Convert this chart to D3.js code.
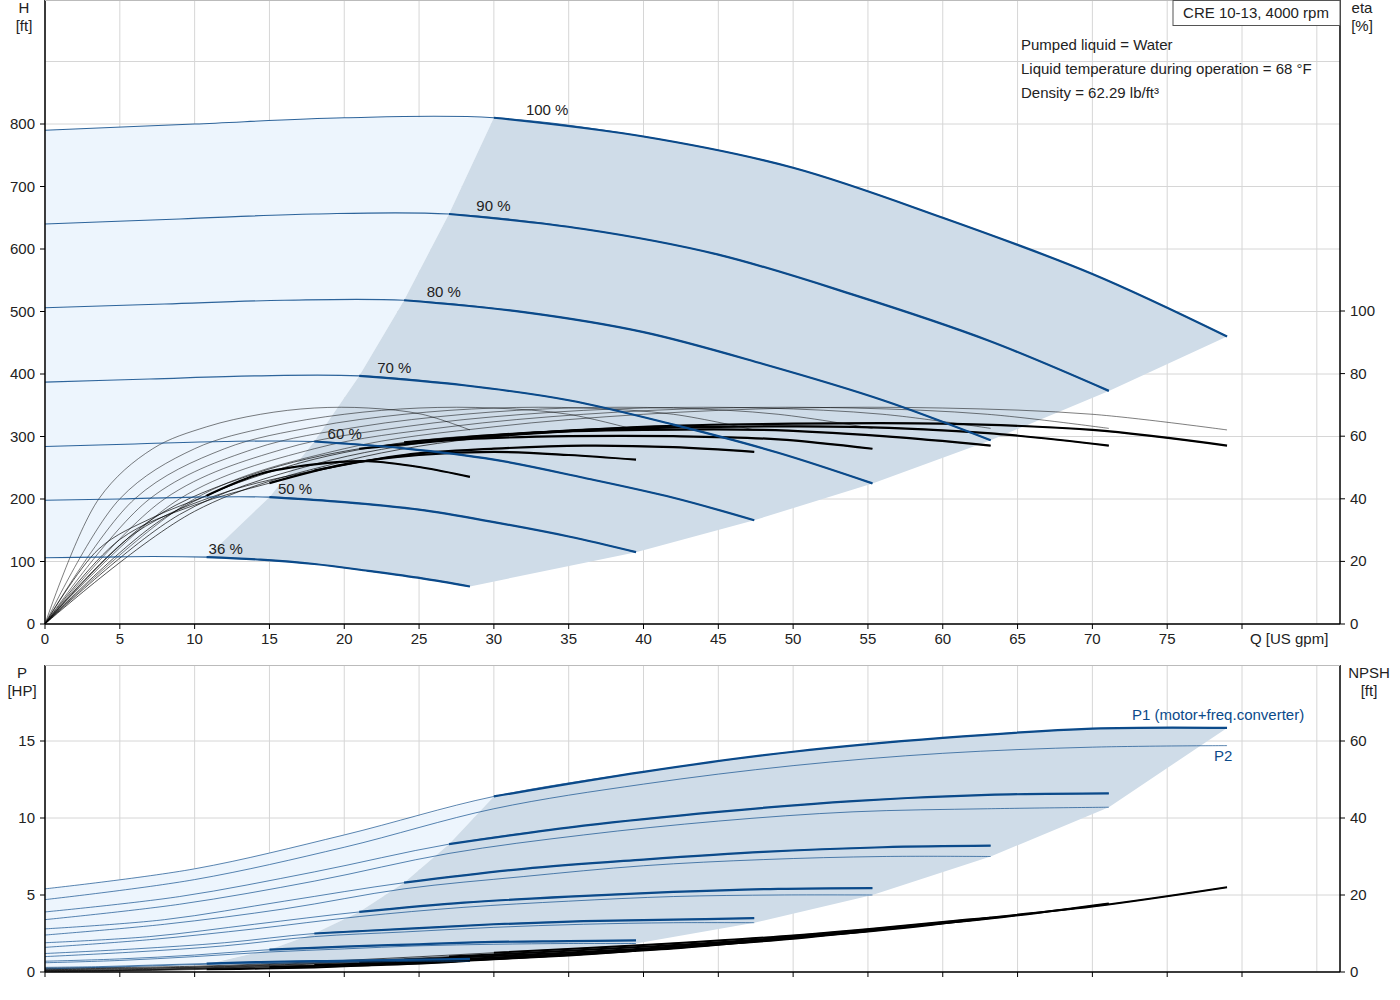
<!DOCTYPE html>
<html><head><meta charset="utf-8">
<script src="https://cdn.jsdelivr.net/npm/d3@7"></script>
<style>body{margin:0;background:#fff}text{font-family:"Liberation Sans",Arial,sans-serif;font-size:15px;fill:#222}</style>
</head><body><svg id="c" width="1400" height="1000"></svg>
<script>
const speeds = ["100 %","90 %","80 %","70 %","60 %","50 %","36 %"];
const qValues = [
 [0,10,20,30,40,50,60,70,79],
 [0,9,18,27,36,45,54,63,71.1],
 [0,8,16,24,32,40,48,56,63.2],
 [0,7,14,21,28,35,42,49,55.3],
 [0,6,12,18,24,30,36,42,47.4],
 [0,5,10,15,20,25,30,35,39.5],
 [0,3.6,7.2,10.8,14.4,18,21.6,25.2,28.4]];
const headValues = [
 [790,800,810,810,780,730,650,560,460],
 [640,648,656,656,632,591,527,454,373],
 [506,512,518,518,499,467,416,358,294],
 [387,392,397,397,382,358,319,274,225],
 [284,288,292,292,281,263,234,202,166],
 [198,200,203,203,195,183,163,140,115],
 [106,107,108,107,103,96,85,73,60]];
const etaTotal = [
 [0,36,52,60,63,64,64,62,57],
 [0,35,51,59,62,63,63,61,57],
 [0,34,50,58,61,62,62,60,57],
 [0,33,48,56,59,60,60,59,56],
 [0,29,42,49,54,56,57,56.5,55],
 [0,27,38,45,51,54,55,54,52.5],
 [0,24,34,41,48,51,52,50,47]];
const etaPump = [
 [0,40,56,63,67,69,69,67,62],
 [0,40,56,63,67,69,69,67,62.5],
 [0,40,56,63,67,69,69,67,62.5],
 [0,40,56,63,67,69,69,67,62.5],
 [0,40,56,63,67,69,69,67,62],
 [0,40,56,63,67,69,69,67,62],
 [0,40,56,63,67,69,69,67,62]];
const p1Values = [
 [5.4,6.7,8.9,11.4,13.0,14.3,15.2,15.8,15.85],
 [3.9,4.9,6.5,8.3,9.5,10.4,11.1,11.5,11.6],
 [2.8,3.4,4.6,5.8,6.7,7.3,7.8,8.1,8.2],
 [1.9,2.3,3.1,3.9,4.5,4.9,5.2,5.4,5.45],
 [1.2,1.5,1.9,2.5,2.8,3.1,3.3,3.4,3.5],
 [0.7,0.85,1.1,1.45,1.65,1.8,1.95,2.0,2.05],
 [0.3,0.35,0.45,0.55,0.65,0.7,0.75,0.8,0.85]];
const p2Values = [
 [4.7,6.0,8.1,10.6,12.2,13.4,14.2,14.6,14.7],
 [3.4,4.4,5.9,7.7,8.9,9.8,10.4,10.6,10.7],
 [2.4,3.1,4.1,5.4,6.2,6.9,7.3,7.5,7.5],
 [1.6,2.1,2.8,3.6,4.2,4.6,4.9,5.0,5.0],
 [1.0,1.3,1.7,2.3,2.6,2.9,3.1,3.2,3.2],
 [0.6,0.75,1.0,1.3,1.5,1.7,1.8,1.85,1.85],
 [0.2,0.3,0.4,0.5,0.55,0.6,0.65,0.7,0.7]];
const npshValues = [
 [1,1.5,3,5,7,9.5,13,17,22],
 [0.8,1.2,2.4,4,5.7,7.7,10.5,13.8,17.8],
 [0.6,1,1.9,3.2,4.5,6.1,8.3,10.9,14.1],
 [0.5,0.7,1.5,2.5,3.4,4.7,6.4,8.3,10.8],
 [0.4,0.5,1.1,1.8,2.5,3.4,4.7,6.1,7.9],
 [0.3,0.4,0.8,1.3,1.8,2.4,3.3,4.3,5.5],
 [0.1,0.2,0.4,0.7,0.9,1.2,1.7,2.2,2.9]];
const xTicks = [0,5,10,15,20,25,30,35,40,45,50,55,60,65,70,75];
const hTicks = [0,100,200,300,400,500,600,700,800];
const etaTicks = [0,20,40,60,80,100];
const pTicks = [0,5,10,15];
const npshTicks = [0,20,40,60];
const infoLines = ["Pumped liquid = Water","Liquid temperature during operation = 68 °F","Density = 62.29 lb/ft³"];

const svg = d3.select("#c");
const L=45,R=1340,T1=0,B1=624,T2=665,B2=972;
const x = d3.scaleLinear([0,80],[L,1242]);
const yH = d3.scaleLinear([0,800],[B1,124]);
const yE = d3.scaleLinear([0,100],[B1,311]);
const yP = d3.scaleLinear([0,15],[B2,741]);
const yN = d3.scaleLinear([0,60],[B2,741]);
const BLUE="#0b4a8a", DARK="#cfdce8", LIGHT="#edf5fd", GRID="#d6d6d6";
const pts=(i,vals)=>qValues[i].map((q,j)=>[q,vals[i][j]]);
const mk=(ys)=>d3.line().x(d=>x(d[0])).y(d=>ys(d[1])).curve(d3.curveCatmullRom);
const seg=(s)=>s.replace(/^M/,"L");

function regions(ys, topV, botV, rightV){
  const line=mk(ys), n=7;
  const top=pts(0,topV), bot=pts(n-1,botV);
  // dark
  let d = line(top.slice(3));
  for(let i=1;i<n;i++){const p=pts(i,rightV)[8]; d+=`L${x(p[0])},${ys(p[1])}`;}
  d += seg(line(bot.slice(3).reverse()));
  for(let i=n-2;i>=1;i--){const p=pts(i,topV===botV?topV:topV)[3]; d+=`L${x(p[0])},${ys(p[1])}`;}
  d+="Z";
  // light
  let l = line(top.slice(0,4));
  for(let i=1;i<n;i++){const p=pts(i,topV)[3]; l+=`L${x(p[0])},${ys(p[1])}`;}
  l += seg(line(bot.slice(0,4).reverse())) + "Z";
  svg.append("path").attr("d",l).attr("fill",LIGHT);
  svg.append("path").attr("d",d).attr("fill",DARK);
}

function grid(T,B,yTicksPx){
  x.ticks; 
  for(let q=0;q<=85;q+=5) svg.append("line").attr("x1",x(q)).attr("x2",x(q)).attr("y1",T).attr("y2",B).attr("stroke",GRID);
  yTicksPx.forEach(py=>svg.append("line").attr("x1",L).attr("x2",R).attr("y1",py).attr("y2",py).attr("stroke",GRID));
}
grid(T1,B1,[...hTicks,900].map(yH));
grid(T2,B2,[...pTicks,20].map(yP).filter(v=>v>=T2));
regions(yH,headValues,headValues,headValues);
regions(yP,p1Values,p2Values,p2Values);

function curves(ys, vals, color, wThin, wThick, thickFrom){
  const line=mk(ys);
  for(let i=0;i<7;i++){
    const p=pts(i,vals);
    svg.append("path").attr("d",line(p)).attr("fill","none").attr("stroke",color).attr("stroke-width",wThin).attr("opacity",0.85);
    if(thickFrom!=null) svg.append("path").attr("d",line(p.slice(thickFrom))).attr("fill","none").attr("stroke",color).attr("stroke-width",wThick);
  }
}
curves(yE,etaPump,"#000",0.6,null,null);
curves(yE,etaTotal,"#000",0.8,2.2,3);
curves(yH,headValues,BLUE,1.1,2.2,3);
curves(yN,npshValues,"#000",0.8,2,3);
curves(yP,p2Values,BLUE,0.8,null,null);
curves(yP,p1Values,BLUE,0.8,2.2,3);

// speed labels
speeds.forEach((s,i)=>{
  const p=pts(i,headValues)[3];
  const f=[1,.9,.8,.7,.6,.5,.36][i];
  svg.append("text").attr("x",x(p[0])+2+(f-0.36)/0.64*30).attr("y",yH(p[1])-3).text(s);
});

// axes frames
function frame(T,B){
  svg.append("line").attr("x1",L).attr("x2",L).attr("y1",T).attr("y2",B).attr("stroke","#000").attr("stroke-width",1.5);
  svg.append("line").attr("x1",R).attr("x2",R).attr("y1",T).attr("y2",B).attr("stroke","#000").attr("stroke-width",1.5);
  svg.append("line").attr("x1",L).attr("x2",R).attr("y1",B).attr("y2",B).attr("stroke","#000").attr("stroke-width",1.5);
  svg.append("line").attr("x1",L).attr("x2",R).attr("y1",T+0.5).attr("y2",T+0.5).attr("stroke","#bbb");
}
frame(T1,B1); frame(T2,B2);
[...xTicks,80].forEach(q=>{
  svg.append("line").attr("x1",x(q)).attr("x2",x(q)).attr("y1",B1).attr("y2",B1+5).attr("stroke","#000");
  svg.append("line").attr("x1",x(q)).attr("x2",x(q)).attr("y1",B2).attr("y2",B2+5).attr("stroke","#000");
});
xTicks.forEach(q=>svg.append("text").attr("x",x(q)).attr("y",B1+20).attr("text-anchor","middle").text(q));
function yAxis(ticks,sc,left){
  ticks.forEach(v=>{
    const py=sc(v);
    svg.append("line").attr("x1",left?L-5:R).attr("x2",left?L:R+5).attr("y1",py).attr("y2",py).attr("stroke","#000");
    svg.append("text").attr("x",left?L-10:R+10).attr("y",py+5).attr("text-anchor",left?"end":"start").text(v);
  });
}
yAxis(hTicks,yH,true); yAxis(etaTicks,yE,false); yAxis(pTicks,yP,true); yAxis(npshTicks,yN,false);
const two=(cx,a,b,y0)=>{svg.append("text").attr("x",cx).attr("y",y0).attr("text-anchor","middle").text(a);svg.append("text").attr("x",cx).attr("y",y0+18).attr("text-anchor","middle").text(b);};
two(24,"H","[ft]",13); two(1362,"eta","[%]",13); two(22,"P","[HP]",678); two(1369,"NPSH","[ft]",678);
svg.append("text").attr("x",1250).attr("y",B1+20).text("Q [US gpm]");
svg.append("rect").attr("x",1173).attr("y",0.5).attr("width",167).attr("height",25).attr("fill","#fff").attr("stroke","#555");
svg.append("text").attr("x",1256).attr("y",18).attr("text-anchor","middle").text("CRE 10-13, 4000 rpm");
infoLines.forEach((t,i)=>svg.append("text").attr("x",1021).attr("y",50+i*24).text(t));
svg.append("text").attr("x",1132).attr("y",720).style("fill",BLUE).text("P1 (motor+freq.converter)");
svg.append("text").attr("x",1214).attr("y",761).style("fill",BLUE).text("P2");
</script></body></html>
